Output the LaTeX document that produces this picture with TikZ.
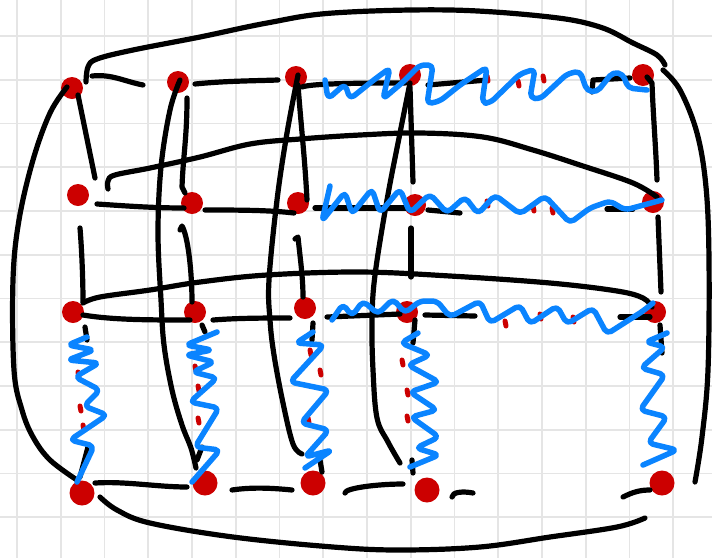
\documentclass[tikz,border=0pt]{standalone}
\usetikzlibrary{calc}
\definecolor{inkred}{RGB}{204,0,0}
\definecolor{inkblue}{RGB}{10,132,255}
\definecolor{gridc}{RGB}{229,229,229}
\begin{document}
\begin{tikzpicture}[x=1pt,y=-1pt,
  wire/.style={black, line width=5.2pt, line cap=round, line join=round},
  spring/.style={inkblue, line width=5.5pt, line cap=round, line join=round, rounded corners=5pt},
  dot/.style={circle, fill=inkred, minimum size=22pt, inner sep=0pt},
  bigdot/.style={dot, minimum size=25pt},
  ell/.style={inkred, line width=5pt, line cap=round}]
\useasboundingbox (0,0) rectangle (712,558);
\fill[white] (0,0) rectangle (712,558);
% grid
\foreach \i in {0,...,15} \draw[gridc, line width=1.8pt] ({17+43.75*\i},0) -- ({17+43.75*\i},558);
\foreach \j in {0,...,11} \draw[gridc, line width=1.8pt] (0,{36+43.75*\j}) -- (712,{36+43.75*\j});
% nodes
\node[dot] (a11) at (72,88) {};
\node[dot] (a12) at (178,82) {};
\node[dot] (a13) at (296,77) {};
\node[dot] (a14) at (410,75) {};
\node[dot] (a15) at (643,75) {};
\node[dot] (a21) at (78,195) {};
\node[dot] (a22) at (192,203) {};
\node[dot] (a23) at (298,203) {};
\node[dot] (a24) at (415,205) {};
\node[dot] (a25) at (653,202) {};
\node[dot] (a31) at (73,312) {};
\node[dot] (a32) at (195,312) {};
\node[dot] (a33) at (305,308) {};
\node[dot] (a34) at (407,312) {};
\node[dot] (a35) at (655,312) {};
\node[bigdot] (a41) at (82,493) {};
\node[bigdot] (a42) at (205,483) {};
\node[bigdot] (a43) at (313,483) {};
\node[bigdot] (a44) at (427,490) {};
\node[bigdot] (a45) at (662,483) {};
% wrap-around edges
\draw[wire] plot[smooth, tension=0.6] coordinates {([shift={(14,-6)}]a11.center) (88,67) (97,59) (133,50) (200,37) (267,23) (333,13) (450,10) (550,17) (600,27) (633,43) (657,55) ([shift={(22,-10)}]a15.center)};
\draw[wire] plot[smooth, tension=0.6] coordinates {([shift={(20,-5)}]a15.center) (680,90) (697,133) (706,187) (709,260) (708,370) (702,437) ([shift={(33,-1)}]a45.center)};
\draw[wire] plot[smooth, tension=0.6] coordinates {([shift={(-5,-1)}]a11.center) (50,113) (33,160) (19,220) (13,280) (14,370) (22,410) (33,437) (50,460) ([shift={(-5,-13)}]a41.center)};
\draw[wire] plot[smooth, tension=0.6] coordinates {([shift={(18,4)}]a41.center) (117,510) (150,523) (233,537) (333,547) (400,550) (480,547) (550,537) (617,527) ([shift={(-17,35)}]a45.center)};
\draw[wire] plot[smooth, tension=0.6] coordinates {([shift={(30,-6)}]a21.center) (108,181) (115,175) (150,168) (200,157) (250,144) (300,139) (360,135) (420,133) (483,137) (533,150) (583,166) (633,183) ([shift={(4,-5)}]a25.center)};
\draw[wire] plot[smooth, tension=0.6] coordinates {([shift={(10,-9)}]a31.center) (100,297) (150,290) (200,282) (267,275) (360,272) (450,276) (550,283) (617,291) (643,298) ([shift={(-3,-5)}]a35.center)};
\draw[wire] plot[smooth, tension=0.6] coordinates {([shift={(2,-2)}]a12.center) (170,110) (161,167) (158,233) (161,300) (164,345) (172,390) (182,425) (191,448) ([shift={(-9,-15)}]a42.center)};
\draw[wire] plot[smooth, tension=0.6] coordinates {([shift={(2,-2)}]a13.center) (287,133) (277,200) (269,280) (270,320) (274,355) (283,403) (293,444) ([shift={(-11,-29)}]a43.center)};
\draw[wire] plot[smooth, tension=0.6] coordinates {([shift={(0,8)}]a14.center) (400,133) (387,200) (375,275) (372,320) (373,370) (377,418) (388,442) ([shift={(-27,-27)}]a44.center)};
% row 1
\draw[wire] ([shift={(20,-12)}]a11.center) .. controls +(20,-2) and +(-20,-4) .. ([shift={(-35,3)}]a12.center);
\draw[wire] ([shift={(17,2)}]a12.center) .. controls +(30,-3) and +(-30,1) .. ([shift={(-18,3)}]a13.center);
\draw[wire] ([shift={(6,10)}]a13.center) .. controls +(10,-4) and +(-30,0) .. ([shift={(-5,8)}]a14.center);
\draw[wire] ([shift={(18,10)}]a14.center) -- (487,80);
\draw[wire] (592,92) -- (593,80) -- ([shift={(-13,3)}]a15.center);
% row 2
\draw[wire] ([shift={(19,9)}]a21.center) .. controls +(30,2) and +(-30,0) .. ([shift={(-8,5)}]a22.center);
\draw[wire] ([shift={(13,7)}]a22.center) .. controls +(30,0) and +(-25,-3) .. ([shift={(-4,10)}]a23.center);
\draw[wire] ([shift={(17,5)}]a23.center) -- ([shift={(-9,3)}]a24.center);
\draw[wire] ([shift={(13,5)}]a24.center) -- (460,213);
\draw[wire] (607,209) -- ([shift={(-20,7)}]a25.center);
% row 3
\draw[wire] ([shift={(10,3)}]a31.center) .. controls +(30,5) and +(-40,0) .. ([shift={(-5,8)}]a32.center);
\draw[wire] ([shift={(18,8)}]a32.center) .. controls +(25,-2) and +(-25,0) .. ([shift={(-15,10)}]a33.center);
\draw[wire] ([shift={(22,9)}]a33.center) -- ([shift={(-7,2)}]a34.center);
\draw[wire] ([shift={(18,3)}]a34.center) -- (475,316);
\draw[wire] (620,317) -- ([shift={(-5,5)}]a35.center);
% row 4
\draw[wire] ([shift={(13,-10)}]a41.center) .. controls +(30,-2) and +(-30,0) .. ([shift={(-18,4)}]a42.center);
\draw[wire] ([shift={(27,7)}]a42.center) .. controls +(20,-3) and +(-20,-2) .. ([shift={(-21,7)}]a43.center);
\draw[wire] ([shift={(32,10)}]a43.center) .. controls +(0,-5) and +(-25,0) .. ([shift={(-24,-6)}]a44.center);
\draw[wire] ([shift={(25,7)}]a44.center) .. controls +(0,-5) and +(-10,-2) .. (473,493);
\draw[wire] (623,497) .. controls +(10,-5) and +(-10,0) .. ([shift={(-12,7)}]a45.center);
% columns
\draw[wire] ([shift={(6,7)}]a11.center) -- ([shift={(17,-17)}]a21.center);
\draw[wire] ([shift={(2,33)}]a21.center) .. controls +(2,25) and +(0,-20) .. ([shift={(10,-10)}]a31.center);
\draw[wire] ([shift={(12,15)}]a31.center) -- ([shift={(14,28)}]a31.center);
\draw[wire] ([shift={(6,-46)}]a41.center) -- ([shift={(-2,-16)}]a41.center);
\draw[wire] ([shift={(9,16)}]a12.center) .. controls +(0,40) and +(1,-30) .. ([shift={(-10,-16)}]a22.center) -- ([shift={(-7,-10)}]a22.center);
\draw[wire] ([shift={(-12,27)}]a22.center) -- ([shift={(-10,23)}]a22.center) .. controls +(6,10) and +(0,-30) .. ([shift={(-3,-10)}]a32.center);
\draw[wire] ([shift={(7,13)}]a32.center) -- ([shift={(10,20)}]a32.center);
\draw[wire] ([shift={(-3,-36)}]a42.center) -- ([shift={(-8,-23)}]a42.center);
\draw[wire] ([shift={(2,8)}]a13.center) .. controls +(3,40) and +(-2,-40) .. ([shift={(9,-3)}]a23.center);
\draw[wire] ([shift={(-3,36)}]a23.center) -- ([shift={(0,34)}]a23.center) .. controls +(2,20) and +(0,-20) .. ([shift={(-2,-11)}]a33.center);
\draw[wire] ([shift={(8,15)}]a33.center) -- ([shift={(7,32)}]a33.center);
\draw[wire] ([shift={(7,-23)}]a43.center) -- ([shift={(9,-11)}]a43.center);
\draw[wire] ([shift={(0,12)}]a14.center) -- ([shift={(-2,-23)}]a24.center);
\draw[wire] ([shift={(-4,23)}]a24.center) -- ([shift={(4,-35)}]a34.center);
\draw[wire] ([shift={(8,8)}]a34.center) -- ([shift={(6,31)}]a34.center);
\draw[wire] ([shift={(-15,-30)}]a44.center) -- ([shift={(-14,-17)}]a44.center);
\draw[wire] ([shift={(4,2)}]a15.center) -- ([shift={(9,8)}]a15.center) .. controls +(1,30) and +(-1,-30) .. ([shift={(4,-22)}]a25.center);
\draw[wire] ([shift={(5,15)}]a25.center) -- ([shift={(6,-20)}]a35.center);
\draw[wire] ([shift={(5,13)}]a35.center) -- ([shift={(7,41)}]a35.center);
% red ellipsis marks
\foreach \p in {(487,76),(518,81),(543,76),(487,201),(533,206),(552,208),(505,321),(540,314),(573,317),
  (78,372),(80,406),(83,425),(195,366),(198,386),(198,418),(310,350),(320,370),(308,418),(402,360),(407,390),(407,416)}
  \draw[ell] \p -- ++(1,5);
% blue springs
\draw[spring] ([shift={(29,3)}]a13.center) -- (328,99) -- (345,84) -- (350,99) -- (375,79) -- (390,68) -- (383,99) -- (403,82) -- (420,65) -- (433,65) -- (427,104) -- (440,101) -- (460,85) -- (487,67) -- (482,103) -- (490,103) -- (520,74) -- (535,69) -- (530,98) -- (540,99) -- (567,74) -- (580,71) -- (587,91) -- (597,92) -- (613,72) -- (623,74) -- (628,88) -- ([shift={(4,15)}]a15.center);
\draw[spring] ([shift={(32,-17)}]a23.center) -- (322,221) -- (345,192) -- (352,214) -- (372,189) -- (380,213) -- (400,189) -- (410,213) -- (430,194) -- (447,213) -- (465,197) -- (478,214) -- (495,195) -- (520,214) -- (545,196) -- (570,223) -- (590,208) -- (610,201) -- (625,210) -- (640,206) -- ([shift={(9,-2)}]a25.center);
\draw[spring] ([shift={(27,12)}]a33.center) -- (343,304) -- (352,316) -- (363,301) -- (378,314) -- (393,299) -- (405,313) -- (420,301) -- (437,301) -- (450,317) -- (480,301) -- (490,323) -- (520,305) -- (530,324) -- (557,306) -- (567,324) -- (593,308) -- (607,334) -- (643,311) -- ([shift={(-2,-9)}]a35.center);
\draw[spring] ([shift={(14,25)}]a31.center) -- (68,345) -- (94,350) -- (68,360) -- (99,363) -- (75,377) -- (100,390) -- (84,406) -- (107,415) -- (70,440) -- (94,446) -- ([shift={(-5,-11)}]a41.center);
\draw[spring] ([shift={(22,20)}]a32.center) -- (186,345) -- (212,350) -- (186,355) -- (214,362) -- (193,372) -- (217,378) -- (190,402) -- (219,408) -- (195,447) -- (220,450) -- ([shift={(-13,-1)}]a42.center);
\draw[spring] ([shift={(8,24)}]a33.center) -- (296,343) -- (324,345) -- (290,382) -- (329,390) -- (301,423) -- (329,430) -- (305,457) -- (332,450) -- ([shift={(-8,-15)}]a43.center);
\draw[spring] ([shift={(11,21)}]a34.center) -- (401,343) -- (430,355) -- (408,365) -- (439,382) -- (410,392) -- (437,410) -- (411,417) -- (439,437) -- (416,448) -- (439,455) -- ([shift={(-17,-23)}]a44.center);
\draw[spring] ([shift={(12,21)}]a35.center) -- (646,342) -- (665,347) -- (641,368) -- (665,375) -- (640,410) -- (667,417) -- (648,443) -- (677,450) -- ([shift={(-19,-18)}]a45.center);
\end{tikzpicture}
\end{document}
